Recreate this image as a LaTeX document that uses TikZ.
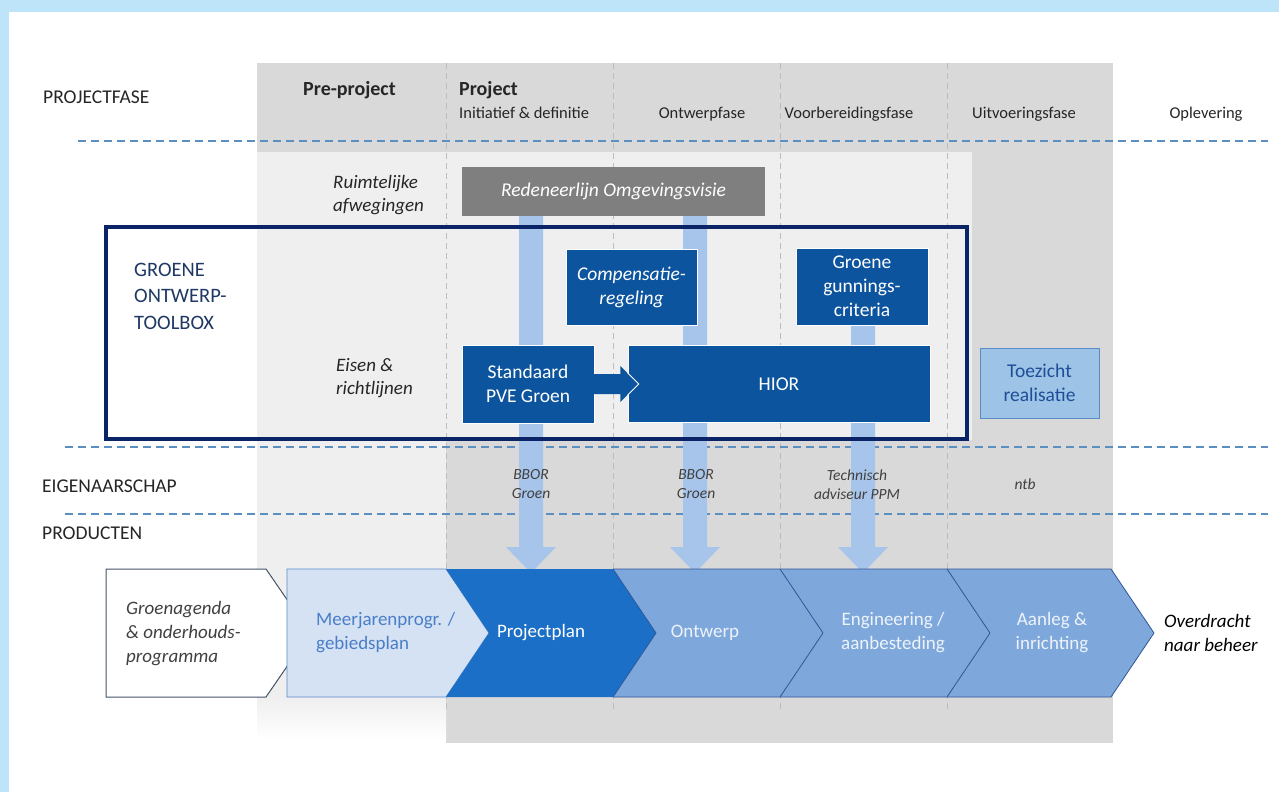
\documentclass[tikz,border=0pt]{standalone}
\usepackage{fontspec}
\setmainfont{Carlito}
\usetikzlibrary{calc}
\definecolor{framebg}{HTML}{BDE4F9}
\definecolor{darkgr}{HTML}{D9D9D9}
\definecolor{lightgr}{HTML}{EFEFEF}
\definecolor{boxgray}{HTML}{7F7F7F}
\definecolor{navy}{HTML}{0B2467}
\definecolor{dblue}{HTML}{0D549E}
\definecolor{barblue}{HTML}{A7C5EA}
\definecolor{ppblue}{HTML}{1C6FC6}
\definecolor{midblue}{HTML}{7EA8DC}
\definecolor{paleblue}{HTML}{D4E2F4}
\definecolor{chevline}{HTML}{2F5597}
\definecolor{dashblue}{HTML}{5B8FC0}
\definecolor{gridgray}{HTML}{BDBDBD}
\definecolor{toolnavy}{HTML}{1F3864}
\definecolor{txtdark}{HTML}{262626}
\definecolor{ownertxt}{HTML}{404040}
\definecolor{meerblue}{HTML}{4A7EC7}
\definecolor{toezfill}{HTML}{9DC3E6}
\definecolor{toezline}{HTML}{5B8BC9}
\definecolor{toeztext}{HTML}{1F4E99}
\definecolor{ontwtext}{HTML}{EEF3FA}
\definecolor{chev0line}{HTML}{44546A}
\newcommand{\fsz}[2]{\fontsize{#1}{#2}\selectfont}
\newcommand{\blockbar}[2]{%
  \fill[barblue] ($(#1)+(-12,0)$) -- ($(#1)+(12,0)$) -- ($(#2)+(12,-26)$) -- ($(#2)+(25,-26)$) -- (#2) -- ($(#2)+(-25,-26)$) -- ($(#2)+(-12,-26)$) -- cycle;}
\tikzset{
  lbl/.style={inner sep=0pt, text=txtdark, font=\fsz{19.5}{24}},
  phaselbl/.style={inner sep=0pt, text=txtdark, font=\fsz{16.5}{20}},
  sidelbl/.style={inner sep=0pt, text=txtdark, font=\fsz{19}{23}\itshape, align=left, anchor=west},
  bluebox/.style={fill=dblue, draw=white, line width=0.6pt, text=white, font=\fsz{19.5}{24}, align=center, inner sep=0pt},
  ownlbl/.style={inner sep=0pt, text=ownertxt, font=\fsz{15.5}{19}\itshape, align=center},
  chevshape/.style={draw=chevline, line width=0.8pt},
  chtxt/.style={inner sep=0pt, font=\fsz{19}{24}, align=center},
  hdash/.style={dashblue, line width=1.1pt, dash pattern=on 8pt off 5pt},
  vdash/.style={gridgray, line width=0.8pt, dash pattern=on 6pt off 4pt}
}
\begin{document}
\begin{tikzpicture}[x=1pt,y=-1pt]
\useasboundingbox (0,0) rectangle (1279,792);
% frame
\fill[framebg] (0,0) rectangle (1279,792);
\fill[white] (9,12) rectangle (1279,792);
% gray areas
\fill[darkgr] (257,63) rectangle (1113,152);
\fill[darkgr] (446,152) rectangle (1113,743);
\fill[lightgr] (257,152) rectangle (972,440);
\fill[lightgr] (257,440) rectangle (446,697);
\shade[top color=lightgr, bottom color=white] (257,697) rectangle (446,740);
% vertical grid lines
\foreach \gx in {446,613,780,947} \draw[vdash] (\gx,63) -- (\gx,712);
% horizontal dashed lines
\draw[hdash] (78,141) -- (1268,141);
\draw[hdash] (65,447) -- (1268,447);
\draw[hdash] (65,514) -- (1268,514);

% header labels
\node[lbl, anchor=base west] (pf) at (43,103) {PROJECTFASE};
\node[lbl, anchor=base, font=\fsz{20}{24}\bfseries] (pre) at (349.5,95) {Pre-project};
\node[lbl, anchor=base west, font=\fsz{20}{24}\bfseries] (proj) at (459,95) {Project};
\node[phaselbl, anchor=base west] (ph1) at (459,118) {Initiatief \& definitie};
\node[phaselbl, anchor=base] (ph2) at (702,118) {Ontwerpfase};
\node[phaselbl, anchor=base] (ph3) at (849,118) {Voorbereidingsfase};
\node[phaselbl, anchor=base] (ph4) at (1024,118) {Uitvoeringsfase};
\node[phaselbl, anchor=base] (ph5) at (1206,118) {Oplevering};

\node[lbl, anchor=base west] (eig) at (42,492) {EIGENAARSCHAP};
\node[lbl, anchor=base west] (prod) at (42,539) {PRODUCTEN};

% side labels
\node[sidelbl] (ruimt) at (333,195) {Ruimtelijke\\afwegingen};
\node[sidelbl] (eisen) at (336,378) {Eisen \&\\richtlijnen};
\node[inner sep=0pt, anchor=west, align=left, text=toolnavy, font=\fsz{20.5}{26.5}] (tbx) at (134,296) {GROENE\\ONTWERP-\\TOOLBOX};

% gray box
\node[fill=boxgray, minimum width=303, minimum height=49, inner sep=0pt, text=white, font=\fsz{19.5}{24}\itshape] (redeneer) at (613.5,191.5) {Redeneerlijn Omgevingsvisie};

% bars (connectors)
\coordinate (b1s) at (531,216);
\coordinate (b1e) at (531,573);
\coordinate (b2s) at (695,216);
\coordinate (b2e) at (695,573);
\coordinate (b3s) at (863,300);
\coordinate (b3e) at (863,573);
\blockbar{b1s}{b1e}
\blockbar{b2s}{b2e}
\blockbar{b3s}{b3e}

% blue boxes
\node[bluebox, minimum width=131, minimum height=76, font=\fsz{19.5}{24}\itshape] (comp) at (631.5,287) {Compensatie-\\regeling};
\node[bluebox, minimum width=132, minimum height=77] (gunning) at (862,286.5) {Groene\\gunnings-\\criteria};
\node[bluebox, minimum width=132, minimum height=78] (standaard) at (528,384) {Standaard\\PVE Groen};
\node[bluebox, minimum width=302, minimum height=77] (hior) at (779,384) {HIOR};
\node[fill=toezfill, draw=toezline, line width=0.8pt, minimum width=119, minimum height=70, inner sep=0pt, align=center, text=toeztext, font=\fsz{19.5}{24}] (toezicht) at (1039.5,383) {Toezicht\\realisatie};

% block arrow Standaard -> HIOR
\coordinate (tipA) at ($(hior.west)+(11,0)$);
\fill[dblue] ($(standaard.east)+(-1,-10)$) -- ($(standaard.east)+(26,-10)$) -- ($(standaard.east)+(26,-18)$) -- (tipA) -- ($(standaard.east)+(26,18)$) -- ($(standaard.east)+(26,10)$) -- ($(standaard.east)+(-1,10)$) -- cycle;
\draw[white, line width=0.8pt] ($(hior.west)+(0,-11)$) -- (tipA) -- ($(hior.west)+(0,11)$);

% toolbox frame
\draw[navy, line width=4pt] (106,227) rectangle (967,439);

% owner labels
\node[ownlbl] (own1) at (531,484.5) {BBOR\\Groen};
\node[ownlbl] (own2) at (696,484.5) {BBOR\\Groen};
\node[ownlbl] (own3) at (857,484.5) {Technisch\\adviseur PPM};
\node[ownlbl] (own4) at (1025,484.5) {ntb};

% chevrons
\fill[white] (106,569) -- (266,569) -- (310,633) -- (266,697) -- (106,697) -- cycle;
\draw[chev0line, line width=1pt] (106,569) -- (266,569) -- (310,633) -- (266,697) -- (106,697) -- cycle;
\fill[paleblue] (287,569) -- (446,569) -- (489,633) -- (446,697) -- (287,697) -- cycle;
\draw[toezline, line width=0.8pt] (287,569) -- (446,569) -- (489,633) -- (446,697) -- (287,697) -- cycle;
\fill[ppblue] (446,569) -- (613,569) -- (656,633) -- (613,697) -- (446,697) -- (489,633) -- cycle;
\fill[midblue] (613,569) -- (780,569) -- (823,633) -- (780,697) -- (613,697) -- (656,633) -- cycle;
\fill[midblue] (780,569) -- (947,569) -- (990,633) -- (947,697) -- (780,697) -- (823,633) -- cycle;
\fill[midblue] (947,569) -- (1111,569) -- (1154,633) -- (1111,697) -- (947,697) -- (990,633) -- cycle;
\draw[chevshape] (613,569) -- (656,633) -- (613,697);
\draw[chevshape] (780,569) -- (823,633) -- (780,697);
\draw[chevshape] (947,569) -- (990,633) -- (947,697);
\draw[chevshape] (613,569) -- (1111,569) -- (1154,633) -- (1111,697) -- (613,697);

% chevron texts
\node[chtxt, anchor=west, align=left, text=ownertxt, font=\fsz{19}{24}\itshape] (groen) at (126,634) {Groenagenda\\\& onderhouds-\\programma};
\node[chtxt, anchor=west, align=left, text=meerblue] (meer) at (316,633) {Meerjarenprogr. /\\gebiedsplan};
\node[chtxt, text=white] (pplan) at (541,633) {Projectplan};
\node[chtxt, text=ontwtext] (ontw) at (705,633) {Ontwerp};
\node[chtxt, text=ontwtext] (eng) at (893,633) {Engineering /\\aanbesteding};
\node[chtxt, text=ontwtext] (aanleg) at (1052,633) {Aanleg \&\\inrichting};
\node[chtxt, anchor=west, align=left, text=black, font=\fsz{19}{24}\itshape] (overdr) at (1164,633) {Overdracht\\naar beheer};
\end{tikzpicture}
\end{document}
